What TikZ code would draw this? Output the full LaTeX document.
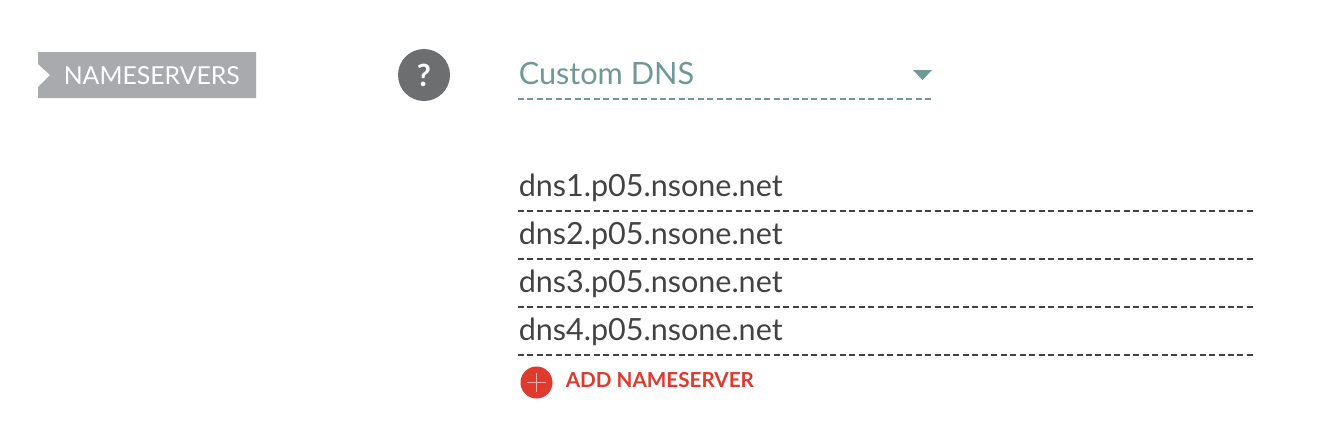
\documentclass[tikz,border=0pt]{standalone}
\usepackage{fontspec}
\setmainfont{Lato}
\definecolor{tagc}{HTML}{A9AAAD}
\definecolor{helpc}{HTML}{6D6E70}
\definecolor{teal}{HTML}{6F9898}
\definecolor{ink}{HTML}{424242}
\definecolor{redc}{HTML}{E03A2E}
\tikzset{
  x=0.75pt,y=-0.75pt,
  dnstext/.style={anchor=base west,inner sep=0pt,text=ink,font=\fontsize{22.9}{26}\selectfont},
  sepline/.style={draw=ink,line width=1.05pt,dash pattern=on 4.5pt off 2.6pt},
}
\begin{document}
\begin{tikzpicture}
\useasboundingbox (0,0) rectangle (1326,426);
\fill[tagc] (38,52) -- (256,52) -- (256,98) -- (38,98) -- (38,87) -- (50,75) -- (38,64) -- cycle;
\node[anchor=base west,inner sep=0pt,text=white,font=\fontsize{18.6}{22}\selectfont] (tag) at (63.5,84) {NAMESERVERS};
\node[circle,fill=helpc,minimum size=39pt,inner sep=0pt,text=white,font=\fontsize{23}{26}\selectfont\bfseries] (help) at (424,75) {?};
\node[anchor=base west,inner sep=0pt,text=teal,font=\fontsize{23}{26}\selectfont] (custom) at (518.5,84.5) {Custom DNS};
\fill[teal] (913,70) -- (932,70) -- (922.5,80) -- cycle;
\coordinate (c1) at (518,99); \coordinate (c2) at (933,99);
\draw[draw=teal,line width=1.05pt,dash pattern=on 4.5pt off 2.6pt] (c1) -- (c2);
\node[dnstext] (d1) at (518.5,196.5) {dns1.p05.nsone.net};
\node[dnstext] (d2) at (518.5,244.5) {dns2.p05.nsone.net};
\node[dnstext] (d3) at (518.5,292.5) {dns3.p05.nsone.net};
\node[dnstext] (d4) at (518.5,340.5) {dns4.p05.nsone.net};
\foreach \yy in {211,259,307,355}{
  \draw[sepline] (518,\yy) -- (1253,\yy);
}
\node[circle,fill=redc,minimum size=24pt,inner sep=0pt] (plus) at (536.5,382.5) {};
\draw[white!60!redc,line width=0.8pt] (527,382.5) -- (546,382.5) (536.5,373) -- (536.5,392);
\node[anchor=base west,inner sep=0pt,text=redc,font=\fontsize{15.5}{18}\selectfont\bfseries] (add) at (565.5,387.5) {ADD NAMESERVER};
\end{tikzpicture}
\end{document}
